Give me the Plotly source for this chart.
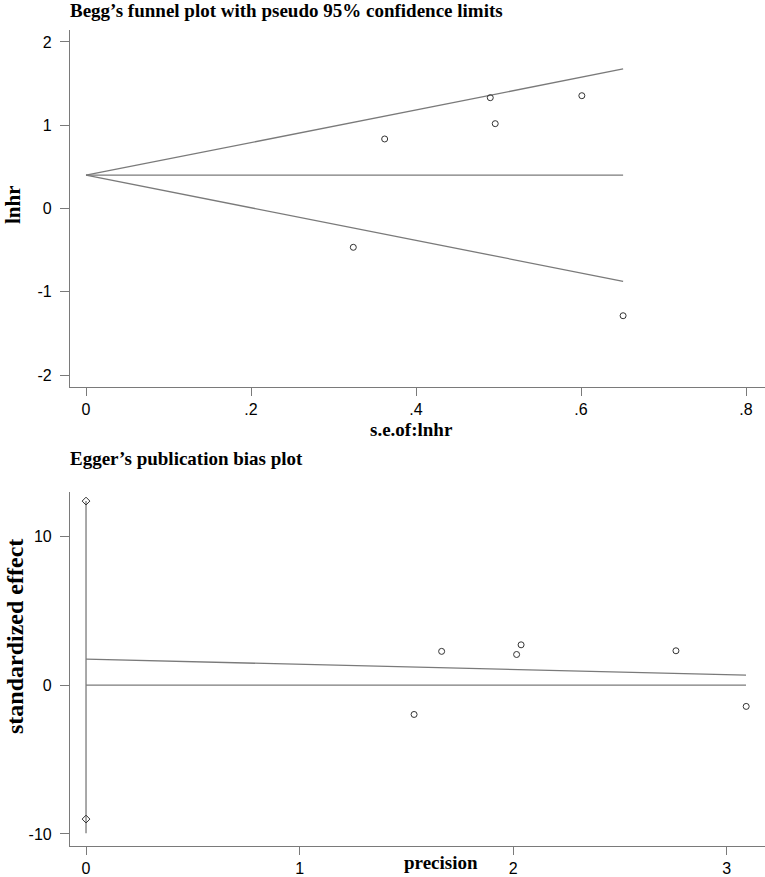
import plotly.graph_objects as go

W, H = 765, 877

# ---- Begg's funnel plot data ----
se_lnhr = [0.324, 0.362, 0.490, 0.496, 0.601, 0.651]
lnhr = [-0.466, 0.835, 1.331, 1.019, 1.355, -1.288]
funnel_x = [0.0, 0.651]
funnel_upper = [0.40, 1.676]
funnel_lower = [0.40, -0.874]
funnel_mid = [0.40, 0.40]
top_xticks = [0, 0.2, 0.4, 0.6, 0.8]
top_xticktext = ["0", ".2", ".4", ".6", ".8"]
top_yticks = [-2, -1, 0, 1, 2]
top_yticktext = ["-2", "-1", "0", "1", "2"]

# ---- Egger's publication bias plot data ----
precision = [1.536, 1.665, 2.016, 2.037, 2.762, 3.091]
std_effect = [-1.97, 2.27, 2.06, 2.71, 2.31, -1.43]
egger_line_x = [0.0, 3.09]
egger_line_y = [1.75, 0.67]
zero_line_x = [0.0, 3.09]
zero_line_y = [0.0, 0.0]
ci_line_x = [0.0, 0.0]
ci_line_y = [12.37, -9.95]
ci_mark_x = [0.0, 0.0]
ci_mark_y = [12.37, -9.0]
bot_xticks = [0, 1, 2, 3]
bot_xticktext = ["0", "1", "2", "3"]
bot_yticks = [-10, 0, 10]
bot_yticktext = ["-10", "0", "10"]

LINE = "#7a7a7a"
MARK = "#333333"
AXIS = "#7a7a7a"

def px(x):
    return x / W

def py(y):
    return 1 - y / H

fig = go.Figure()

# top plot
for yy in (funnel_upper, funnel_lower, funnel_mid):
    fig.add_trace(go.Scatter(x=funnel_x, y=yy, mode="lines",
                             line=dict(color=LINE, width=1.3), xaxis="x", yaxis="y"))
fig.add_trace(go.Scatter(x=se_lnhr, y=lnhr, mode="markers",
                         marker=dict(symbol="circle-open", size=6, color=MARK,
                                     line=dict(width=1)), xaxis="x", yaxis="y"))

# bottom plot
fig.add_trace(go.Scatter(x=ci_line_x, y=ci_line_y, mode="lines",
                         line=dict(color=LINE, width=1.3), xaxis="x2", yaxis="y2"))
fig.add_trace(go.Scatter(x=ci_mark_x, y=ci_mark_y, mode="markers",
                         marker=dict(symbol="diamond-open", size=6, color=MARK,
                                     line=dict(width=1)), xaxis="x2", yaxis="y2"))
fig.add_trace(go.Scatter(x=egger_line_x, y=egger_line_y, mode="lines",
                         line=dict(color=LINE, width=1.3), xaxis="x2", yaxis="y2"))
fig.add_trace(go.Scatter(x=zero_line_x, y=zero_line_y, mode="lines",
                         line=dict(color=LINE, width=1.3), xaxis="x2", yaxis="y2"))
fig.add_trace(go.Scatter(x=precision, y=std_effect, mode="markers",
                         marker=dict(symbol="circle-open", size=6, color=MARK,
                                     line=dict(width=1)), xaxis="x2", yaxis="y2"))

tickfont = dict(family="Liberation Sans, Arial, sans-serif", size=16, color="black")

common_x = dict(showgrid=False, zeroline=False, showline=True, linecolor=AXIS,
                linewidth=1.2, ticks="outside", ticklen=8, tickcolor=AXIS,
                tickwidth=1.2, tickfont=tickfont)
common_y = dict(showgrid=False, zeroline=False, showline=True, linecolor=AXIS,
                linewidth=1.2, ticks="outside", ticklen=9, tickcolor=AXIS,
                tickwidth=1.2, tickfont=tickfont, ticklabelstandoff=5)

top_dom = [py(387), py(30)]
bot_dom = [py(846), py(492)]
xdom = [px(70), 1.0]

fig.update_layout(
    width=W, height=H,
    margin=dict(l=0, r=0, t=0, b=0),
    paper_bgcolor="white", plot_bgcolor="white",
    showlegend=False,
    xaxis=dict(common_x, domain=xdom, range=[-0.0194, 0.823], anchor="y",
               tickvals=top_xticks, ticktext=top_xticktext),
    yaxis=dict(common_y, domain=top_dom, range=[-2.144, 2.144], anchor="x",
               tickvals=top_yticks, ticktext=top_yticktext),
    xaxis2=dict(common_x, domain=xdom, range=[-0.075, 3.179], anchor="y2",
                tickvals=bot_xticks, ticktext=bot_xticktext),
    yaxis2=dict(common_y, domain=bot_dom, range=[-10.81, 12.98], anchor="x2",
                tickvals=bot_yticks, ticktext=bot_yticktext),
)

serif = "Liberation Serif, Times New Roman, serif"
ann = [
    dict(text="<b>Begg’s funnel plot with pseudo 95% confidence limits</b>",
         x=px(68), y=py(11), xanchor="left", yanchor="middle", size=19),
    dict(text="<b>Egger’s publication bias plot</b>",
         x=px(68), y=py(459), xanchor="left", yanchor="middle", size=19),
    dict(text="<b>s.e.of:lnhr</b>", x=px(411), y=py(429),
         xanchor="center", yanchor="middle", size=19),
    dict(text="<b>precision</b>", x=px(441), y=py(862),
         xanchor="center", yanchor="middle", size=19),
    dict(text="<b>lnhr</b>", x=px(13), y=py(204),
         xanchor="center", yanchor="middle", size=21, textangle=-90),
    dict(text="<b>standardized effect</b>", x=px(15), y=py(637),
         xanchor="center", yanchor="middle", size=24, textangle=-90),
]
for a in ann:
    size = a.pop("size")
    fig.add_annotation(xref="paper", yref="paper", showarrow=False,
                       font=dict(family=serif, size=size, color="black"), **a)

fig.write_html("out.html",
               config={"displayModeBar": False},
               post_script="document.body.style.margin='0';document.body.style.overflow='hidden';")
